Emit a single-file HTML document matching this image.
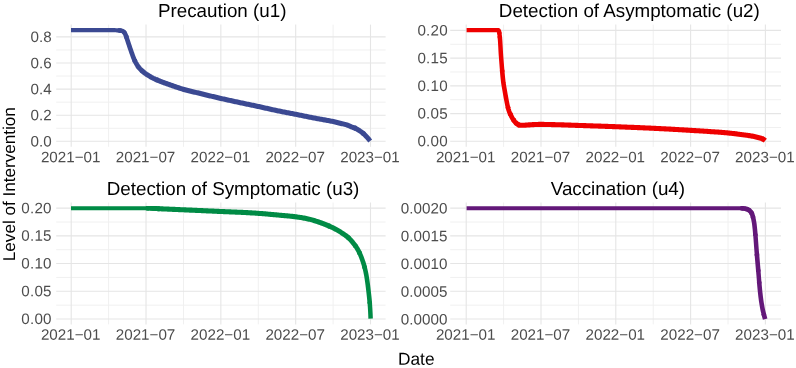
<!DOCTYPE html>
<html><head><meta charset="utf-8"><title>Level of Intervention</title>
<style>
html,body{margin:0;padding:0;background:#fff;}
body{width:796px;height:368px;overflow:hidden;font-family:"Liberation Sans",sans-serif;}
svg{display:block;position:absolute;left:0;top:0;will-change:transform;}
svg text{font-family:"Liberation Sans",sans-serif;text-rendering:geometricPrecision;}
.ax{font-size:15.2px;fill:#4d4d4d;}
.tt{font-size:18.8px;fill:#000;}
.al{font-size:17.1px;fill:#000;}
.gM{stroke:#e5e5e5;stroke-width:1.1;fill:none;}
.gm{stroke:#f0f0f0;stroke-width:1.0;fill:none;}
.ln{fill:none;stroke-width:4.2;stroke-linejoin:round;stroke-linecap:butt;}
</style></head><body>
<svg width="796" height="368" viewBox="0 0 796 368">
<rect x="0" y="0" width="796" height="368" fill="#ffffff"/>
<g id="p1">
<line class="gm" x1="108.61" y1="24.6" x2="108.61" y2="146.85"/>
<line class="gm" x1="183.44" y1="24.6" x2="183.44" y2="146.85"/>
<line class="gm" x1="258.26" y1="24.6" x2="258.26" y2="146.85"/>
<line class="gm" x1="333.09" y1="24.6" x2="333.09" y2="146.85"/>
<line class="gm" x1="56.2" y1="128.25" x2="385.6" y2="128.25"/>
<line class="gm" x1="56.2" y1="102.16" x2="385.6" y2="102.16"/>
<line class="gm" x1="56.2" y1="76.06" x2="385.6" y2="76.06"/>
<line class="gm" x1="56.2" y1="49.97" x2="385.6" y2="49.97"/>
<line class="gM" x1="71.20" y1="24.6" x2="71.20" y2="146.85"/>
<line class="gM" x1="146.03" y1="24.6" x2="146.03" y2="146.85"/>
<line class="gM" x1="220.85" y1="24.6" x2="220.85" y2="146.85"/>
<line class="gM" x1="295.68" y1="24.6" x2="295.68" y2="146.85"/>
<line class="gM" x1="370.50" y1="24.6" x2="370.50" y2="146.85"/>
<line class="gM" x1="56.2" y1="141.30" x2="385.6" y2="141.30"/>
<line class="gM" x1="56.2" y1="115.21" x2="385.6" y2="115.21"/>
<line class="gM" x1="56.2" y1="89.11" x2="385.6" y2="89.11"/>
<line class="gM" x1="56.2" y1="63.02" x2="385.6" y2="63.02"/>
<line class="gM" x1="56.2" y1="36.92" x2="385.6" y2="36.92"/>
<path class="ln" stroke="#3B4992" d="M71.00,30.10 L104.93,30.10 L105.93,30.10 L106.92,30.11 L107.92,30.11 L108.92,30.12 L109.92,30.13 L110.92,30.15 L111.91,30.16 L112.91,30.18 L113.91,30.20 L114.91,30.22 L115.91,30.26 L116.90,30.31 L117.90,30.37 L118.89,30.44 L119.89,30.54"/>
<path class="ln" stroke="#3B4992" style="stroke-width:4.3" d="M117.90,30.37 L118.89,30.44 L119.89,30.54 L120.88,30.70"/>
<path class="ln" stroke="#3B4992" style="stroke-width:4.4" d="M118.89,30.44 L119.89,30.54 L120.88,30.70 L121.85,30.91"/>
<path class="ln" stroke="#3B4992" style="stroke-width:4.5" d="M119.89,30.54 L120.88,30.70 L121.85,30.91 L122.81,31.24 L123.63,31.75 L124.31,32.51 L124.86,33.34"/>
<path class="ln" stroke="#3B4992" style="stroke-width:4.6" d="M123.63,31.75 L124.31,32.51 L124.86,33.34 L125.31,34.23 L125.70,35.14 L126.06,36.07 L126.39,37.01 L126.71,37.96"/>
<path class="ln" stroke="#3B4992" style="stroke-width:4.7" d="M126.06,36.07 L126.39,37.01 L126.71,37.96 L127.01,38.92 L127.32,39.87 L127.64,40.82 L127.96,41.77 L128.28,42.71 L128.60,43.66 L128.91,44.61 L129.22,45.55 L129.53,46.50 L129.85,47.45 L130.17,48.40 L130.49,49.34 L130.82,50.28 L131.15,51.22 L131.48,52.17 L131.81,53.11 L132.15,54.06 L132.48,55.01 L132.82,55.95 L133.17,56.89 L133.53,57.82 L133.90,58.75 L134.29,59.66 L134.70,60.56 L135.12,61.45"/>
<path class="ln" stroke="#3B4992" style="stroke-width:4.8" d="M134.29,59.66 L134.70,60.56 L135.12,61.45 L135.58,62.34 L136.06,63.22 L136.56,64.10 L137.09,64.96 L137.64,65.81 L138.21,66.63 L138.81,67.41"/>
<path class="ln" stroke="#3B4992" style="stroke-width:4.9" d="M137.64,65.81 L138.21,66.63 L138.81,67.41 L139.42,68.17 L140.08,68.90 L140.77,69.62 L141.49,70.31 L142.24,70.99 L143.01,71.65"/>
<path class="ln" stroke="#3B4992" style="stroke-width:5.0" d="M141.49,70.31 L142.24,70.99 L143.01,71.65 L143.80,72.29 L144.59,72.91 L145.39,73.50 L146.19,74.08 L147.01,74.63 L147.84,75.17 L148.69,75.70 L149.56,76.21 L150.43,76.71 L151.31,77.20 L152.20,77.67 L153.09,78.13 L153.99,78.57 L154.89,79.00 L155.78,79.42 L156.69,79.82 L157.60,80.21"/>
<path class="ln" stroke="#3B4992" style="stroke-width:5.1" d="M155.78,79.42 L156.69,79.82 L157.60,80.21 L158.52,80.60 L159.44,80.97 L160.37,81.34 L161.30,81.70 L162.24,82.05 L163.18,82.40 L164.12,82.74 L165.06,83.08 L166.01,83.42 L166.95,83.75 L167.89,84.08 L168.84,84.42 L169.78,84.75 L170.72,85.08 L171.66,85.42 L172.60,85.75 L173.54,86.09 L174.48,86.42 L175.43,86.75 L176.37,87.07 L177.32,87.39 L178.26,87.71 L179.21,88.02 L180.16,88.33 L181.11,88.63 L182.07,88.92 L183.02,89.20 L183.98,89.48 L184.94,89.75 L185.90,90.01 L186.86,90.26 L187.83,90.51 L188.80,90.76 L189.76,91.00 L190.73,91.23 L191.70,91.47 L192.68,91.70 L193.65,91.93 L194.62,92.15 L195.59,92.38 L196.57,92.61 L197.54,92.84 L198.51,93.07 L199.48,93.30 L200.45,93.54 L201.42,93.77 L202.39,94.01 L203.36,94.25 L204.33,94.48 L205.30,94.72 L206.27,94.96 L207.24,95.19 L208.21,95.43 L209.18,95.67 L210.15,95.90 L211.12,96.14 L212.09,96.37 L213.06,96.60 L214.03,96.84 L215.00,97.07 L215.97,97.30 L216.94,97.53 L217.91,97.75 L218.88,97.98 L219.86,98.21 L220.83,98.43 L221.80,98.65 L222.77,98.87 L223.75,99.09 L224.72,99.31 L225.69,99.53 L226.67,99.74 L227.64,99.96 L228.62,100.17 L229.59,100.38 L230.57,100.60 L231.54,100.81 L232.52,101.02 L233.49,101.23 L234.47,101.44 L235.45,101.65 L236.42,101.86 L237.40,102.07 L238.37,102.28 L239.35,102.49 L240.32,102.70 L241.30,102.90 L242.28,103.11 L243.25,103.32 L244.23,103.52 L245.21,103.72 L246.18,103.93 L247.16,104.13 L248.14,104.34 L249.11,104.54 L250.09,104.74 L251.07,104.95 L252.04,105.15 L253.02,105.36 L254.00,105.57 L254.97,105.77 L255.95,105.98 L256.92,106.19 L257.90,106.40 L258.88,106.61 L259.85,106.83 L260.82,107.04 L261.80,107.26 L262.77,107.48 L263.75,107.70 L264.72,107.92 L265.69,108.14 L266.67,108.36 L267.64,108.58 L268.61,108.80 L269.59,109.02 L270.56,109.23 L271.53,109.45 L272.51,109.67 L273.48,109.88 L274.46,110.09 L275.43,110.30 L276.41,110.50 L277.39,110.70 L278.37,110.91 L279.34,111.10 L280.32,111.30 L281.30,111.49 L282.28,111.69 L283.26,111.88 L284.24,112.07 L285.22,112.26 L286.20,112.45 L287.18,112.64 L288.16,112.83 L289.14,113.02 L290.12,113.21 L291.10,113.40 L292.08,113.59 L293.06,113.78 L294.03,113.97 L295.01,114.16 L295.99,114.36 L296.97,114.55 L297.95,114.75 L298.93,114.95 L299.91,115.15 L300.88,115.34 L301.86,115.54 L302.84,115.74 L303.82,115.94 L304.80,116.14 L305.77,116.34 L306.75,116.54 L307.73,116.74 L308.71,116.94 L309.69,117.13 L310.66,117.33 L311.64,117.52 L312.62,117.72 L313.60,117.91 L314.58,118.10 L315.56,118.29 L316.54,118.47 L317.52,118.65 L318.50,118.83 L319.49,119.01 L320.47,119.18 L321.45,119.35 L322.44,119.52 L323.42,119.70 L324.40,119.87 L325.39,120.04 L326.37,120.22 L327.35,120.39 L328.33,120.58 L329.31,120.76 L330.29,120.95 L331.27,121.14 L332.25,121.34 L333.23,121.54 L334.20,121.75 L335.17,121.98 L336.14,122.21 L337.11,122.44 L338.08,122.69 L339.05,122.93 L340.02,123.18 L340.98,123.42 L341.95,123.66 L342.93,123.89 L343.90,124.13 L344.87,124.37 L345.83,124.64 L346.78,124.93 L347.72,125.25 L348.64,125.62 L349.56,126.01 L350.48,126.41 L351.41,126.79 L352.34,127.14 L353.29,127.46 L354.24,127.79 L355.16,128.15 L356.06,128.57"/>
<path class="ln" stroke="#3B4992" style="stroke-width:5.0" d="M354.24,127.79 L355.16,128.15 L356.06,128.57 L356.92,129.06 L357.77,129.60 L358.61,130.15 L359.45,130.70 L360.28,131.24 L361.11,131.80 L361.93,132.38 L362.71,132.99 L363.47,133.64 L364.20,134.32"/>
<path class="ln" stroke="#3B4992" style="stroke-width:4.9" d="M362.71,132.99 L363.47,133.64 L364.20,134.32 L364.92,135.02 L365.61,135.73 L366.30,136.46 L366.97,137.20 L367.63,137.95 L368.28,138.70 L368.93,139.46 L369.57,140.22 L370.20,141.00"/>
<text class="ax" text-anchor="end" transform="translate(51.70,146.45) rotate(0.03)">0.0</text>
<text class="ax" text-anchor="end" transform="translate(51.70,120.36) rotate(0.03)">0.2</text>
<text class="ax" text-anchor="end" transform="translate(51.70,94.26) rotate(0.03)">0.4</text>
<text class="ax" text-anchor="end" transform="translate(51.70,68.17) rotate(0.03)">0.6</text>
<text class="ax" text-anchor="end" transform="translate(51.70,42.07) rotate(0.03)">0.8</text>
<text class="ax" text-anchor="middle" transform="translate(70.70,162.35) rotate(0.03)">2021−01</text>
<text class="ax" text-anchor="middle" transform="translate(145.53,162.35) rotate(0.03)">2021−07</text>
<text class="ax" text-anchor="middle" transform="translate(220.35,162.35) rotate(0.03)">2022−01</text>
<text class="ax" text-anchor="middle" transform="translate(295.18,162.35) rotate(0.03)">2022−07</text>
<text class="ax" text-anchor="middle" transform="translate(370.00,162.35) rotate(0.03)">2023−01</text>
<text class="tt" text-anchor="middle" transform="translate(222.2,17.2) rotate(0.02)">Precaution (u1)</text>
</g>
<g id="p2">
<line class="gm" x1="503.60" y1="24.6" x2="503.60" y2="146.85"/>
<line class="gm" x1="578.40" y1="24.6" x2="578.40" y2="146.85"/>
<line class="gm" x1="653.20" y1="24.6" x2="653.20" y2="146.85"/>
<line class="gm" x1="728.00" y1="24.6" x2="728.00" y2="146.85"/>
<line class="gm" x1="450.2" y1="127.44" x2="781.0" y2="127.44"/>
<line class="gm" x1="450.2" y1="99.71" x2="781.0" y2="99.71"/>
<line class="gm" x1="450.2" y1="71.99" x2="781.0" y2="71.99"/>
<line class="gm" x1="450.2" y1="44.26" x2="781.0" y2="44.26"/>
<line class="gM" x1="466.20" y1="24.6" x2="466.20" y2="146.85"/>
<line class="gM" x1="541.00" y1="24.6" x2="541.00" y2="146.85"/>
<line class="gM" x1="615.80" y1="24.6" x2="615.80" y2="146.85"/>
<line class="gM" x1="690.60" y1="24.6" x2="690.60" y2="146.85"/>
<line class="gM" x1="765.40" y1="24.6" x2="765.40" y2="146.85"/>
<line class="gM" x1="450.2" y1="141.30" x2="781.0" y2="141.30"/>
<line class="gM" x1="450.2" y1="113.58" x2="781.0" y2="113.58"/>
<line class="gM" x1="450.2" y1="85.85" x2="781.0" y2="85.85"/>
<line class="gM" x1="450.2" y1="58.13" x2="781.0" y2="58.13"/>
<line class="gM" x1="450.2" y1="30.40" x2="781.0" y2="30.40"/>
<path class="ln" stroke="#EE0000" d="M466.60,30.10 L497.58,30.10 L498.60,30.34"/>
<path class="ln" stroke="#EE0000" style="stroke-width:4.3" d="M496.60,30.10 L497.58,30.10 L498.60,30.34 L499.02,31.08 L499.22,32.16 L499.36,33.13 L499.49,34.11"/>
<path class="ln" stroke="#EE0000" style="stroke-width:4.4" d="M499.22,32.16 L499.36,33.13 L499.49,34.11 L499.61,35.08 L499.72,36.07 L499.82,37.05 L499.91,38.04"/>
<path class="ln" stroke="#EE0000" style="stroke-width:4.5" d="M499.72,36.07 L499.82,37.05 L499.91,38.04 L499.99,39.04 L500.07,40.03 L500.14,41.03 L500.21,42.03 L500.27,43.03 L500.33,44.03 L500.39,45.04 L500.44,46.04 L500.50,47.05 L500.55,48.05 L500.60,49.06 L500.65,50.06 L500.71,51.07 L500.76,52.07 L500.82,53.08 L500.89,54.08 L500.95,55.08 L501.03,56.08 L501.11,57.08 L501.19,58.07 L501.27,59.07 L501.34,60.06 L501.42,61.06 L501.50,62.06 L501.57,63.06 L501.65,64.05 L501.73,65.05 L501.80,66.05 L501.88,67.05 L501.96,68.04 L502.04,69.04 L502.12,70.04 L502.20,71.03 L502.29,72.03"/>
<path class="ln" stroke="#EE0000" style="stroke-width:4.6" d="M502.12,70.04 L502.20,71.03 L502.29,72.03 L502.38,73.03 L502.46,74.02 L502.56,75.02 L502.65,76.01 L502.75,77.00 L502.85,78.00 L502.96,78.99 L503.07,79.98 L503.18,80.97 L503.30,81.96 L503.42,82.95 L503.57,83.94 L503.72,84.93 L503.89,85.91 L504.06,86.90 L504.24,87.88 L504.42,88.87 L504.60,89.85 L504.77,90.84 L504.94,91.82 L505.11,92.81 L505.28,93.79 L505.45,94.78 L505.62,95.76 L505.79,96.75 L505.97,97.73 L506.15,98.71 L506.34,99.69 L506.53,100.67 L506.72,101.66 L506.91,102.65 L507.11,103.63 L507.30,104.62 L507.51,105.60 L507.73,106.57 L507.97,107.54 L508.22,108.50"/>
<path class="ln" stroke="#EE0000" style="stroke-width:4.7" d="M507.73,106.57 L507.97,107.54 L508.22,108.50 L508.49,109.45 L508.79,110.40 L509.12,111.34 L509.49,112.27 L509.88,113.20 L510.29,114.12 L510.73,115.03"/>
<path class="ln" stroke="#EE0000" style="stroke-width:4.8" d="M509.88,113.20 L510.29,114.12 L510.73,115.03 L511.18,115.92 L511.64,116.80 L512.12,117.68 L512.62,118.55 L513.15,119.40 L513.71,120.24 L514.31,121.05"/>
<path class="ln" stroke="#EE0000" style="stroke-width:4.9" d="M513.15,119.40 L513.71,120.24 L514.31,121.05 L514.93,121.82 L515.59,122.57 L516.31,123.29 L517.09,123.93"/>
<path class="ln" stroke="#EE0000" style="stroke-width:5.0" d="M515.59,122.57 L516.31,123.29 L517.09,123.93 L517.92,124.45 L518.83,124.94 L519.79,125.26"/>
<path class="ln" stroke="#EE0000" style="stroke-width:5.1" d="M517.92,124.45 L518.83,124.94 L519.79,125.26 L520.76,125.30 L521.76,125.30 L522.77,125.30 L523.77,125.30 L524.77,125.25 L525.76,125.16 L526.76,125.05 L527.75,124.96 L528.75,124.89 L529.75,124.83 L530.75,124.77 L531.74,124.71 L532.74,124.65 L533.74,124.60 L534.74,124.55 L535.74,124.51 L536.74,124.47 L537.74,124.44 L538.74,124.42 L539.73,124.40 L540.73,124.40 L541.73,124.40 L542.73,124.41 L543.73,124.42 L544.73,124.43 L545.73,124.45 L546.73,124.46 L547.73,124.48 L548.73,124.50 L549.73,124.53 L550.73,124.55 L551.72,124.58 L552.72,124.60 L553.72,124.63 L554.72,124.66 L555.72,124.68 L556.72,124.71 L557.72,124.74 L558.72,124.77 L559.72,124.79 L560.72,124.82 L561.72,124.85 L562.72,124.88 L563.71,124.91 L564.71,124.94 L565.71,124.97 L566.71,125.01 L567.71,125.04 L568.71,125.08 L569.71,125.11 L570.71,125.15 L571.70,125.18 L572.70,125.22 L573.70,125.26 L574.70,125.29 L575.70,125.33 L576.70,125.37 L577.70,125.40 L578.70,125.43 L579.69,125.47 L580.69,125.50 L581.69,125.54 L582.69,125.57 L583.69,125.60 L584.69,125.64 L585.69,125.67 L586.69,125.70 L587.69,125.74 L588.68,125.77 L589.68,125.80 L590.68,125.84 L591.68,125.87 L592.68,125.90 L593.68,125.94 L594.68,125.97 L595.68,126.00 L596.68,126.04 L597.67,126.07 L598.67,126.10 L599.67,126.14 L600.67,126.17 L601.67,126.21 L602.67,126.24 L603.67,126.27 L604.67,126.31 L605.66,126.34 L606.66,126.38 L607.66,126.42 L608.66,126.45 L609.66,126.49 L610.66,126.52 L611.66,126.56 L612.66,126.60 L613.65,126.63 L614.65,126.67 L615.65,126.71 L616.65,126.75 L617.65,126.79 L618.65,126.82 L619.65,126.86 L620.64,126.90 L621.64,126.94 L622.64,126.98 L623.64,127.02 L624.64,127.06 L625.64,127.10 L626.64,127.14 L627.64,127.18 L628.63,127.22 L629.63,127.26 L630.63,127.30 L631.63,127.34 L632.63,127.38 L633.63,127.42 L634.63,127.46 L635.62,127.50 L636.62,127.54 L637.62,127.58 L638.62,127.63 L639.62,127.67 L640.62,127.71 L641.62,127.75 L642.61,127.80 L643.61,127.84 L644.61,127.89 L645.61,127.93 L646.61,127.97 L647.61,128.02 L648.60,128.06 L649.60,128.11 L650.60,128.15 L651.60,128.20 L652.60,128.25 L653.60,128.29 L654.59,128.34 L655.59,128.39 L656.59,128.43 L657.59,128.48 L658.59,128.53 L659.58,128.58 L660.58,128.63 L661.58,128.68 L662.58,128.73 L663.58,128.78 L664.58,128.83 L665.57,128.89 L666.57,128.94 L667.57,128.99 L668.57,129.05 L669.56,129.10 L670.56,129.16 L671.56,129.22 L672.56,129.27 L673.56,129.33 L674.55,129.39 L675.55,129.44 L676.55,129.50 L677.55,129.56 L678.54,129.62 L679.54,129.68 L680.54,129.74 L681.54,129.80 L682.54,129.86 L683.53,129.92 L684.53,129.98 L685.53,130.04 L686.53,130.10 L687.52,130.16 L688.52,130.22 L689.52,130.28 L690.52,130.34 L691.51,130.40 L692.51,130.46 L693.51,130.52 L694.51,130.58 L695.50,130.64 L696.50,130.70 L697.50,130.76 L698.50,130.82 L699.49,130.88 L700.49,130.94 L701.49,131.01 L702.49,131.07 L703.48,131.13 L704.48,131.20 L705.48,131.26 L706.48,131.33 L707.47,131.40 L708.47,131.46 L709.47,131.53 L710.46,131.60 L711.46,131.67 L712.46,131.74 L713.46,131.80 L714.45,131.87 L715.45,131.94 L716.45,132.01 L717.44,132.08 L718.44,132.16 L719.44,132.23 L720.44,132.31 L721.43,132.38 L722.43,132.46 L723.42,132.54 L724.42,132.63 L725.42,132.71 L726.41,132.80 L727.40,132.89 L728.40,132.99 L729.39,133.09 L730.39,133.19 L731.38,133.30 L732.37,133.42 L733.37,133.53 L734.36,133.65 L735.35,133.78 L736.34,133.90 L737.33,134.03 L738.32,134.16 L739.32,134.29 L740.31,134.42 L741.30,134.55 L742.29,134.68 L743.28,134.80 L744.27,134.93 L745.26,135.06 L746.26,135.19 L747.25,135.33 L748.24,135.47 L749.23,135.62 L750.21,135.78 L751.19,135.95 L752.18,136.13 L753.15,136.32 L754.13,136.54 L755.11,136.76 L756.08,137.00 L757.05,137.25 L758.01,137.50 L758.99,137.76 L759.97,138.01 L760.94,138.29 L761.89,138.60 L762.80,138.96 L763.67,139.41"/>
<path class="ln" stroke="#EE0000" style="stroke-width:5.0" d="M761.89,138.60 L762.80,138.96 L763.67,139.41 L764.50,139.97 L765.30,140.60"/>
<text class="ax" style="letter-spacing:0.2px" text-anchor="end" transform="translate(447.80,146.35) rotate(0.03)">0.00</text>
<text class="ax" style="letter-spacing:0.2px" text-anchor="end" transform="translate(447.80,118.63) rotate(0.03)">0.05</text>
<text class="ax" style="letter-spacing:0.2px" text-anchor="end" transform="translate(447.80,90.90) rotate(0.03)">0.10</text>
<text class="ax" style="letter-spacing:0.2px" text-anchor="end" transform="translate(447.80,63.18) rotate(0.03)">0.15</text>
<text class="ax" style="letter-spacing:0.2px" text-anchor="end" transform="translate(447.80,35.45) rotate(0.03)">0.20</text>
<text class="ax" text-anchor="middle" transform="translate(465.70,162.35) rotate(0.03)">2021−01</text>
<text class="ax" text-anchor="middle" transform="translate(540.50,162.35) rotate(0.03)">2021−07</text>
<text class="ax" text-anchor="middle" transform="translate(615.30,162.35) rotate(0.03)">2022−01</text>
<text class="ax" text-anchor="middle" transform="translate(690.10,162.35) rotate(0.03)">2022−07</text>
<text class="ax" text-anchor="middle" transform="translate(764.90,162.35) rotate(0.03)">2023−01</text>
<text class="tt" text-anchor="middle" transform="translate(629.3,17.2) rotate(0.02)">Detection of Asymptomatic (u2)</text>
</g>
<g id="p3">
<line class="gm" x1="108.61" y1="202.5" x2="108.61" y2="324.4"/>
<line class="gm" x1="183.44" y1="202.5" x2="183.44" y2="324.4"/>
<line class="gm" x1="258.26" y1="202.5" x2="258.26" y2="324.4"/>
<line class="gm" x1="333.09" y1="202.5" x2="333.09" y2="324.4"/>
<line class="gm" x1="56.2" y1="305.14" x2="385.6" y2="305.14"/>
<line class="gm" x1="56.2" y1="277.43" x2="385.6" y2="277.43"/>
<line class="gm" x1="56.2" y1="249.72" x2="385.6" y2="249.72"/>
<line class="gm" x1="56.2" y1="222.01" x2="385.6" y2="222.01"/>
<line class="gM" x1="71.20" y1="202.5" x2="71.20" y2="324.4"/>
<line class="gM" x1="146.03" y1="202.5" x2="146.03" y2="324.4"/>
<line class="gM" x1="220.85" y1="202.5" x2="220.85" y2="324.4"/>
<line class="gM" x1="295.68" y1="202.5" x2="295.68" y2="324.4"/>
<line class="gM" x1="370.50" y1="202.5" x2="370.50" y2="324.4"/>
<line class="gM" x1="56.2" y1="319.00" x2="385.6" y2="319.00"/>
<line class="gM" x1="56.2" y1="291.29" x2="385.6" y2="291.29"/>
<line class="gM" x1="56.2" y1="263.57" x2="385.6" y2="263.57"/>
<line class="gM" x1="56.2" y1="235.86" x2="385.6" y2="235.86"/>
<line class="gM" x1="56.2" y1="208.15" x2="385.6" y2="208.15"/>
<path class="ln" stroke="#008B45" d="M71.00,208.25 L145.85,208.25 L146.85,208.25 L147.85,208.26"/>
<path class="ln" stroke="#008B45" style="stroke-width:4.3" d="M145.85,208.25 L146.85,208.25 L147.85,208.26 L148.84,208.28"/>
<path class="ln" stroke="#008B45" style="stroke-width:4.4" d="M146.85,208.25 L147.85,208.26 L148.84,208.28 L149.84,208.31"/>
<path class="ln" stroke="#008B45" style="stroke-width:4.5" d="M147.85,208.26 L148.84,208.28 L149.84,208.31 L150.84,208.34 L151.84,208.38"/>
<path class="ln" stroke="#008B45" style="stroke-width:4.6" d="M149.84,208.31 L150.84,208.34 L151.84,208.38 L152.83,208.42 L153.83,208.46"/>
<path class="ln" stroke="#008B45" style="stroke-width:4.7" d="M151.84,208.38 L152.83,208.42 L153.83,208.46 L154.83,208.51"/>
<path class="ln" stroke="#008B45" style="stroke-width:4.8" d="M152.83,208.42 L153.83,208.46 L154.83,208.51 L155.82,208.56 L156.82,208.61"/>
<path class="ln" stroke="#008B45" style="stroke-width:4.9" d="M154.83,208.51 L155.82,208.56 L156.82,208.61 L157.82,208.67"/>
<path class="ln" stroke="#008B45" style="stroke-width:5.0" d="M155.82,208.56 L156.82,208.61 L157.82,208.67 L158.82,208.72 L159.81,208.77"/>
<path class="ln" stroke="#008B45" style="stroke-width:5.1" d="M157.82,208.67 L158.82,208.72 L159.81,208.77 L160.81,208.82 L161.81,208.86 L162.81,208.90 L163.80,208.95 L164.80,208.99 L165.80,209.03 L166.79,209.07 L167.79,209.11 L168.79,209.16 L169.78,209.20 L170.78,209.24 L171.78,209.29 L172.78,209.33 L173.77,209.37 L174.77,209.42 L175.77,209.46 L176.76,209.51 L177.76,209.55 L178.76,209.59 L179.76,209.64 L180.75,209.68 L181.75,209.73 L182.75,209.77 L183.74,209.82 L184.74,209.86 L185.74,209.90 L186.73,209.95 L187.73,209.99 L188.73,210.04 L189.73,210.08 L190.72,210.13 L191.72,210.17 L192.72,210.21 L193.71,210.26 L194.71,210.30 L195.71,210.35 L196.71,210.39 L197.70,210.44 L198.70,210.48 L199.70,210.53 L200.69,210.57 L201.69,210.62 L202.69,210.66 L203.68,210.71 L204.68,210.75 L205.68,210.80 L206.68,210.84 L207.67,210.89 L208.67,210.94 L209.67,210.98 L210.66,211.03 L211.66,211.07 L212.66,211.12 L213.65,211.17 L214.65,211.21 L215.65,211.26 L216.64,211.30 L217.64,211.35 L218.64,211.39 L219.64,211.44 L220.63,211.48 L221.63,211.53 L222.63,211.57 L223.62,211.61 L224.62,211.66 L225.62,211.70 L226.62,211.74 L227.61,211.78 L228.61,211.82 L229.61,211.86 L230.60,211.90 L231.60,211.94 L232.60,211.98 L233.60,212.02 L234.59,212.06 L235.59,212.10 L236.59,212.15 L237.58,212.19 L238.58,212.23 L239.58,212.28 L240.58,212.32 L241.57,212.37 L242.57,212.41 L243.57,212.46 L244.56,212.51 L245.56,212.56 L246.56,212.62 L247.55,212.67 L248.55,212.72 L249.55,212.78 L250.54,212.84 L251.54,212.89 L252.54,212.95 L253.53,213.01 L254.53,213.08 L255.52,213.14 L256.52,213.21 L257.52,213.27 L258.51,213.34 L259.51,213.42 L260.50,213.49 L261.50,213.57 L262.49,213.65 L263.48,213.73 L264.48,213.81 L265.47,213.90 L266.47,213.99 L267.46,214.08 L268.46,214.17 L269.45,214.26 L270.44,214.35 L271.44,214.44 L272.43,214.53 L273.43,214.62 L274.42,214.72 L275.41,214.81 L276.41,214.90 L277.40,214.99 L278.40,215.08 L279.39,215.17 L280.38,215.26 L281.38,215.35 L282.37,215.43 L283.37,215.52 L284.36,215.61 L285.36,215.70 L286.35,215.79 L287.35,215.89 L288.34,215.98 L289.33,216.08 L290.33,216.18 L291.32,216.29 L292.31,216.40 L293.30,216.51 L294.29,216.63 L295.28,216.75 L296.27,216.87 L297.26,217.01 L298.25,217.15 L299.24,217.29 L300.22,217.44 L301.21,217.60 L302.20,217.77 L303.18,217.94 L304.17,218.12 L305.15,218.31 L306.12,218.51 L307.10,218.71 L308.07,218.92 L309.04,219.14 L310.01,219.37 L310.97,219.63 L311.93,219.89 L312.90,220.17 L313.85,220.46 L314.81,220.75 L315.76,221.06 L316.71,221.37 L317.66,221.69 L318.61,222.01 L319.55,222.34 L320.49,222.67 L321.43,223.00 L322.37,223.34 L323.30,223.69 L324.24,224.05 L325.17,224.41 L326.10,224.79 L327.02,225.17 L327.95,225.56 L328.86,225.95 L329.78,226.36"/>
<path class="ln" stroke="#008B45" style="stroke-width:5.0" d="M327.95,225.56 L328.86,225.95 L329.78,226.36 L330.69,226.77 L331.60,227.19 L332.49,227.61 L333.39,228.05 L334.28,228.49 L335.16,228.95 L336.04,229.42 L336.91,229.91 L337.78,230.41 L338.64,230.92 L339.50,231.44 L340.35,231.97 L341.19,232.50 L342.02,233.05 L342.86,233.59 L343.69,234.15 L344.52,234.72 L345.34,235.30 L346.15,235.89 L346.95,236.50 L347.72,237.13 L348.46,237.78 L349.18,238.45"/>
<path class="ln" stroke="#008B45" style="stroke-width:4.9" d="M347.72,237.13 L348.46,237.78 L349.18,238.45 L349.89,239.15 L350.57,239.87 L351.24,240.62 L351.90,241.38 L352.54,242.15 L353.17,242.94 L353.79,243.72 L354.39,244.51 L354.99,245.31 L355.57,246.12 L356.15,246.95"/>
<path class="ln" stroke="#008B45" style="stroke-width:4.8" d="M354.99,245.31 L355.57,246.12 L356.15,246.95 L356.71,247.78 L357.24,248.63 L357.75,249.48 L358.23,250.35 L358.70,251.22 L359.14,252.12 L359.57,253.02 L359.99,253.93"/>
<path class="ln" stroke="#008B45" style="stroke-width:4.7" d="M359.14,252.12 L359.57,253.02 L359.99,253.93 L360.39,254.85 L360.78,255.77 L361.15,256.70 L361.51,257.63 L361.86,258.56 L362.20,259.50 L362.54,260.44 L362.86,261.39 L363.17,262.34 L363.47,263.29 L363.76,264.25 L364.04,265.21 L364.30,266.17 L364.55,267.13 L364.80,268.10"/>
<path class="ln" stroke="#008B45" style="stroke-width:4.6" d="M364.30,266.17 L364.55,267.13 L364.80,268.10 L365.04,269.07 L365.27,270.04 L365.50,271.01 L365.71,271.99 L365.91,272.97 L366.11,273.95 L366.29,274.93 L366.46,275.91 L366.62,276.89 L366.78,277.88 L366.94,278.86 L367.09,279.85 L367.23,280.84 L367.37,281.82 L367.50,282.81 L367.64,283.81 L367.77,284.80 L367.89,285.79 L368.01,286.78 L368.14,287.77 L368.25,288.76 L368.37,289.75 L368.49,290.74 L368.60,291.73 L368.72,292.73 L368.83,293.72 L368.94,294.71 L369.05,295.70 L369.16,296.70 L369.27,297.69 L369.37,298.68 L369.47,299.67 L369.56,300.67 L369.65,301.66 L369.73,302.66 L369.81,303.65"/>
<path class="ln" stroke="#008B45" style="stroke-width:4.5" d="M369.65,301.66 L369.73,302.66 L369.81,303.65 L369.88,304.65 L369.95,305.64 L370.01,306.64 L370.08,307.63 L370.14,308.63 L370.20,309.62 L370.26,310.62 L370.31,311.62 L370.36,312.61 L370.41,313.61 L370.46,314.61 L370.50,315.61 L370.54,316.60 L370.57,317.60 L370.60,318.60"/>
<text class="ax" style="letter-spacing:0.2px" text-anchor="end" transform="translate(51.70,324.00) rotate(0.03)">0.00</text>
<text class="ax" style="letter-spacing:0.2px" text-anchor="end" transform="translate(51.70,296.29) rotate(0.03)">0.05</text>
<text class="ax" style="letter-spacing:0.2px" text-anchor="end" transform="translate(51.70,268.57) rotate(0.03)">0.10</text>
<text class="ax" style="letter-spacing:0.2px" text-anchor="end" transform="translate(51.70,240.86) rotate(0.03)">0.15</text>
<text class="ax" style="letter-spacing:0.2px" text-anchor="end" transform="translate(51.70,213.15) rotate(0.03)">0.20</text>
<text class="ax" text-anchor="middle" transform="translate(70.70,339.75) rotate(0.03)">2021−01</text>
<text class="ax" text-anchor="middle" transform="translate(145.53,339.75) rotate(0.03)">2021−07</text>
<text class="ax" text-anchor="middle" transform="translate(220.35,339.75) rotate(0.03)">2022−01</text>
<text class="ax" text-anchor="middle" transform="translate(295.18,339.75) rotate(0.03)">2022−07</text>
<text class="ax" text-anchor="middle" transform="translate(370.00,339.75) rotate(0.03)">2023−01</text>
<text class="tt" text-anchor="middle" transform="translate(233.05,194.8) rotate(0.02)">Detection of Symptomatic (u3)</text>
</g>
<g id="p4">
<line class="gm" x1="503.60" y1="202.5" x2="503.60" y2="324.4"/>
<line class="gm" x1="578.40" y1="202.5" x2="578.40" y2="324.4"/>
<line class="gm" x1="653.20" y1="202.5" x2="653.20" y2="324.4"/>
<line class="gm" x1="728.00" y1="202.5" x2="728.00" y2="324.4"/>
<line class="gm" x1="450.2" y1="305.14" x2="781.0" y2="305.14"/>
<line class="gm" x1="450.2" y1="277.43" x2="781.0" y2="277.43"/>
<line class="gm" x1="450.2" y1="249.72" x2="781.0" y2="249.72"/>
<line class="gm" x1="450.2" y1="222.01" x2="781.0" y2="222.01"/>
<line class="gM" x1="466.20" y1="202.5" x2="466.20" y2="324.4"/>
<line class="gM" x1="541.00" y1="202.5" x2="541.00" y2="324.4"/>
<line class="gM" x1="615.80" y1="202.5" x2="615.80" y2="324.4"/>
<line class="gM" x1="690.60" y1="202.5" x2="690.60" y2="324.4"/>
<line class="gM" x1="765.40" y1="202.5" x2="765.40" y2="324.4"/>
<line class="gM" x1="450.2" y1="319.00" x2="781.0" y2="319.00"/>
<line class="gM" x1="450.2" y1="291.29" x2="781.0" y2="291.29"/>
<line class="gM" x1="450.2" y1="263.57" x2="781.0" y2="263.57"/>
<line class="gM" x1="450.2" y1="235.86" x2="781.0" y2="235.86"/>
<line class="gM" x1="450.2" y1="208.15" x2="781.0" y2="208.15"/>
<path class="ln" stroke="#631879" d="M466.60,208.25 L741.44,208.25 L742.44,208.28"/>
<path class="ln" stroke="#631879" style="stroke-width:4.3" d="M740.44,208.25 L741.44,208.25 L742.44,208.28 L743.44,208.39"/>
<path class="ln" stroke="#631879" style="stroke-width:4.4" d="M741.44,208.25 L742.44,208.28 L743.44,208.39 L744.44,208.54"/>
<path class="ln" stroke="#631879" style="stroke-width:4.5" d="M742.44,208.28 L743.44,208.39 L744.44,208.54 L745.42,208.73 L746.38,208.94"/>
<path class="ln" stroke="#631879" style="stroke-width:4.6" d="M744.44,208.54 L745.42,208.73 L746.38,208.94 L747.34,209.26 L748.27,209.71"/>
<path class="ln" stroke="#631879" style="stroke-width:4.7" d="M746.38,208.94 L747.34,209.26 L748.27,209.71 L749.13,210.23 L749.87,210.82"/>
<path class="ln" stroke="#631879" style="stroke-width:4.8" d="M748.27,209.71 L749.13,210.23 L749.87,210.82 L750.56,211.55 L751.18,212.39 L751.69,213.27 L752.08,214.15"/>
<path class="ln" stroke="#631879" style="stroke-width:4.7" d="M751.18,212.39 L751.69,213.27 L752.08,214.15 L752.41,215.09 L752.71,216.06 L752.96,217.04 L753.20,218.02"/>
<path class="ln" stroke="#631879" style="stroke-width:4.6" d="M752.71,216.06 L752.96,217.04 L753.20,218.02 L753.43,218.99 L753.63,219.97 L753.82,220.95 L753.99,221.94 L754.15,222.92 L754.31,223.91 L754.44,224.90 L754.55,225.89 L754.66,226.89 L754.77,227.88 L754.87,228.87 L754.97,229.87 L755.06,230.86 L755.15,231.85 L755.24,232.85 L755.33,233.85 L755.41,234.84 L755.50,235.84"/>
<path class="ln" stroke="#631879" style="stroke-width:4.5" d="M755.33,233.85 L755.41,234.84 L755.50,235.84 L755.58,236.83 L755.65,237.83 L755.73,238.83 L755.81,239.82 L755.88,240.82 L755.95,241.82 L756.03,242.82 L756.10,243.81 L756.17,244.81 L756.24,245.81 L756.32,246.81 L756.39,247.80 L756.46,248.80 L756.54,249.80 L756.61,250.80 L756.69,251.79 L756.77,252.79 L756.85,253.79 L756.93,254.78 L757.02,255.78"/>
<path class="ln" stroke="#631879" style="stroke-width:4.6" d="M756.85,253.79 L756.93,254.78 L757.02,255.78 L757.10,256.77 L757.19,257.77 L757.27,258.76 L757.36,259.76 L757.44,260.76 L757.53,261.75 L757.61,262.75 L757.70,263.74 L757.78,264.74 L757.87,265.73 L757.96,266.73 L758.04,267.73 L758.13,268.72 L758.21,269.72 L758.29,270.71 L758.38,271.71"/>
<path class="ln" stroke="#631879" style="stroke-width:4.5" d="M758.21,269.72 L758.29,270.71 L758.38,271.71 L758.46,272.71 L758.54,273.70 L758.62,274.70 L758.70,275.69 L758.77,276.69 L758.85,277.69 L758.93,278.68 L759.01,279.68 L759.08,280.68 L759.16,281.67 L759.25,282.67 L759.33,283.66"/>
<path class="ln" stroke="#631879" style="stroke-width:4.6" d="M759.16,281.67 L759.25,282.67 L759.33,283.66 L759.42,284.66 L759.51,285.66 L759.60,286.65 L759.69,287.65 L759.79,288.64 L759.88,289.64 L759.98,290.63 L760.08,291.63 L760.18,292.62 L760.29,293.61 L760.40,294.61 L760.51,295.60 L760.63,296.59 L760.75,297.58 L760.88,298.57 L761.01,299.57 L761.15,300.56 L761.30,301.54 L761.45,302.53 L761.60,303.52 L761.77,304.51 L761.93,305.49 L762.11,306.48 L762.28,307.46 L762.47,308.44 L762.67,309.42 L762.88,310.40 L763.10,311.37 L763.32,312.35 L763.55,313.32 L763.79,314.29 L764.05,315.26"/>
<path class="ln" stroke="#631879" style="stroke-width:4.7" d="M763.55,313.32 L763.79,314.29 L764.05,315.26 L764.31,316.22 L764.58,317.18 L764.86,318.14 L765.15,319.10"/>
<text class="ax" style="letter-spacing:0.08px" text-anchor="end" transform="translate(447.58,324.40) rotate(0.03)">0.0000</text>
<text class="ax" style="letter-spacing:0.08px" text-anchor="end" transform="translate(447.58,296.69) rotate(0.03)">0.0005</text>
<text class="ax" style="letter-spacing:0.08px" text-anchor="end" transform="translate(447.58,268.97) rotate(0.03)">0.0010</text>
<text class="ax" style="letter-spacing:0.08px" text-anchor="end" transform="translate(447.58,241.26) rotate(0.03)">0.0015</text>
<text class="ax" style="letter-spacing:0.08px" text-anchor="end" transform="translate(447.58,213.55) rotate(0.03)">0.0020</text>
<text class="ax" text-anchor="middle" transform="translate(465.70,339.75) rotate(0.03)">2021−01</text>
<text class="ax" text-anchor="middle" transform="translate(540.50,339.75) rotate(0.03)">2021−07</text>
<text class="ax" text-anchor="middle" transform="translate(615.30,339.75) rotate(0.03)">2022−01</text>
<text class="ax" text-anchor="middle" transform="translate(690.10,339.75) rotate(0.03)">2022−07</text>
<text class="ax" text-anchor="middle" transform="translate(764.90,339.75) rotate(0.03)">2023−01</text>
<text class="tt" text-anchor="middle" transform="translate(617.9,194.65) rotate(0.02)">Vaccination (u4)</text>
</g>
<text class="al" style="font-size:17.3px" text-anchor="middle" transform="translate(416.25,364.7) rotate(0.03)">Date</text>
<text class="al" text-anchor="middle" transform="translate(15.1,184.2) rotate(-90.02)">Level of Intervention</text>
</svg>
</body></html>
